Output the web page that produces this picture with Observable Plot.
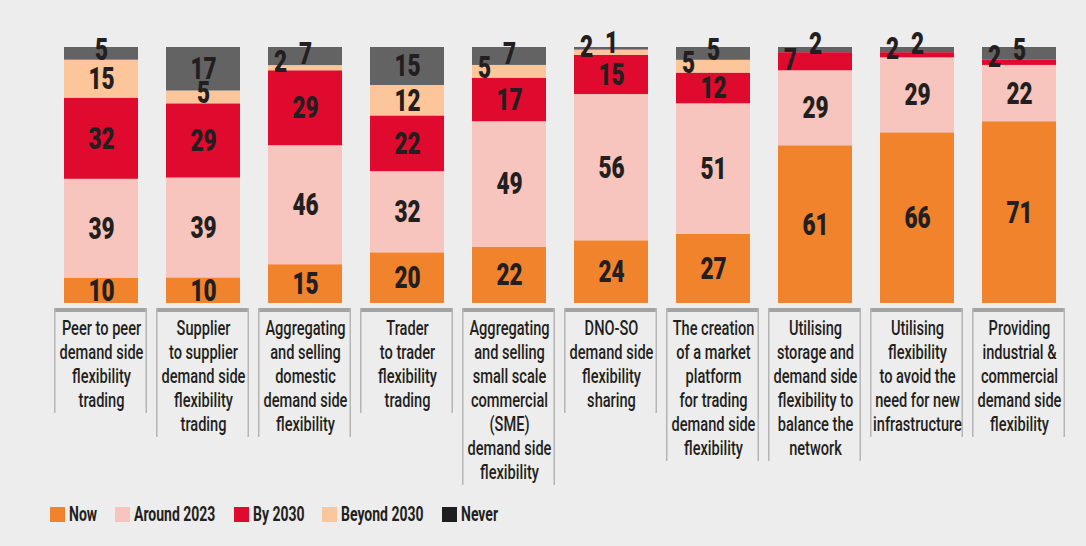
<!DOCTYPE html>
<html>
<head>
<meta charset="utf-8">
<script src="https://cdn.jsdelivr.net/npm/d3@7"></script>
<script src="https://cdn.jsdelivr.net/npm/@observablehq/plot@0.6"></script>
<style>
  html, body { margin: 0; padding: 0; background: #ededed; }
  body { width: 1086px; height: 546px; overflow: hidden; font-family: Roboto, sans-serif; color: #231f20; }
  #legend { display: flex; align-items: center; margin-left: 50px; padding-top: 6px; font-weight: bold; font-size: 20px; line-height: 20px; }
  .item { display: flex; align-items: center; margin-right: 18px; }
  .sw { width: 15px; height: 15px; margin-right: 4px; display: inline-block; flex: none; }
  .lt { display: inline-block; transform: scaleX(0.7); transform-origin: left center; white-space: nowrap; }
</style>
</head>
<body>
<div id="chart"></div>
<div id="legend"></div>
<script>
const categories = [
  "Peer to peer\ndemand side\nflexibility\ntrading",
  "Supplier\nto supplier\ndemand side\nflexibility\ntrading",
  "Aggregating\nand selling\ndomestic\ndemand side\nflexibility",
  "Trader\nto trader\nflexibility\ntrading",
  "Aggregating\nand selling\nsmall scale\ncommercial\n(SME)\ndemand side\nflexibility",
  "DNO-SO\ndemand side\nflexibility\nsharing",
  "The creation\nof a market\nplatform\nfor trading\ndemand side\nflexibility",
  "Utilising\nstorage and\ndemand side\nflexibility to\nbalance the\nnetwork",
  "Utilising\nflexibility\nto avoid the\nneed for new\ninfrastructure",
  "Providing\nindustrial &\ncommercial\ndemand side\nflexibility"
];
const seriesNames = ["Now", "Around 2023", "By 2030", "Beyond 2030", "Never"];
const now        = [10, 10, 15, 20, 22, 24, 27, 61, 66, 71];
const around2023 = [39, 39, 46, 32, 49, 56, 51, 29, 29, 22];
const by2030     = [32, 29, 29, 22, 17, 15, 12, 7, 2, 2];
const beyond2030 = [15, 5, 2, 12, 5, 2, 5, 0, 0, 0];
const never      = [5, 17, 7, 15, 7, 1, 5, 2, 2, 5];
const barColors    = ["#f0832c", "#f7c5bd", "#df0a2d", "#fdc69a", "#636363"];
const legendColors = ["#f0832c", "#f7c5bd", "#df0a2d", "#fdc69a", "#1e1e1e"];

const seriesValues = [now, around2023, by2030, beyond2030, never];
const data = [];
categories.forEach((cat, i) => {
  seriesValues.forEach((vals, s) => {
    data.push({cat, series: seriesNames[s], si: s, ci: i, value: vals[i]});
  });
});
// a small label is shifted left when the next non-empty segment above it is also small
function shifted(d) {
  if (d.value === 0 || d.value > 7) return false;
  for (let s = d.si + 1; s < seriesValues.length; s++) {
    const v = seriesValues[s][d.ci];
    if (v > 0) return v <= 7;
  }
  return false;
}
// labels of thin segments sit a little higher than the segment's middle
function raise(d) {
  if (d.value > 7) return 0;
  if (d.value <= 2) return 6;
  if (d.value <= 5) return 4;
  return 2;
}

const font = 'Roboto, sans-serif';
const ink = "#231f20";
const squeeze = 0.73;

function boxes(index, scales, values, dimensions) {
  const ns = "http://www.w3.org/2000/svg";
  const g = document.createElementNS(ns, "g");
  const x = scales.x;
  const bw = x.bandwidth ? x.bandwidth() : scales.scales.x.bandwidth;
  const top = dimensions.height - dimensions.marginBottom + 5;
  categories.forEach(c => {
    const lines = c.split("\n").length;
    const x0 = x(c) - 10, x1 = x(c) + bw + 9;
    const bottom = top + 9 + lines * 24;
    const r = document.createElementNS(ns, "rect");
    r.setAttribute("x", x0); r.setAttribute("y", top);
    r.setAttribute("width", x1 - x0); r.setAttribute("height", 4);
    r.setAttribute("fill", "#a3a3a3");
    g.appendChild(r);
    [x0 + 0.75, x1 - 0.75].forEach(xx => {
      const l = document.createElementNS(ns, "line");
      l.setAttribute("x1", xx); l.setAttribute("x2", xx);
      l.setAttribute("y1", top); l.setAttribute("y2", bottom);
      l.setAttribute("stroke", "#b5b5b5"); l.setAttribute("stroke-width", 1.5);
      g.appendChild(l);
    });
  });
  return g;
}

const stackOpts = {offset: "normalize", order: seriesNames};

function valueLabels(isShifted, r) {
  return Plot.text(data, Plot.stackY({...stackOpts, x: "cat", y: "value", z: "series",
    text: d => (d.value > 0 && shifted(d) === isShifted && raise(d) === r) ? String(d.value) : "",
    dx: isShifted ? -25 : 0, dy: -r, fontSize: 31, fontWeight: 900, fill: ink}));
}

const labelMarks = [];
[false, true].forEach(s => [0, 2, 4, 6].forEach(r => labelMarks.push(valueLabels(s, r))));

const chart = Plot.plot({
  width: 1086,
  height: 498,
  marginTop: 47,
  marginBottom: 195,
  marginLeft: 50,
  marginRight: 16,
  style: {background: "#ededed", fontFamily: font, color: ink, overflow: "visible"},
  x: {domain: categories, paddingInner: 0.2745, paddingOuter: 0.137, axis: null},
  y: {axis: null},
  color: {domain: seriesNames, range: barColors},
  marks: [
    Plot.barY(data, Plot.stackY({...stackOpts, x: "cat", y: "value", fill: "series"})),
    ...labelMarks,
    boxes,
    Plot.text(categories, {x: d => d, text: d => d, frameAnchor: "bottom", lineAnchor: "top",
      dy: 14, lineHeight: 24 / 20, fontSize: 20, fontWeight: 500, fill: ink})
  ]
});
// condense all text horizontally (the original uses a condensed typeface)
chart.querySelectorAll("text").forEach(t => {
  const tr = t.getAttribute("transform") || "";
  t.setAttribute("transform", (tr + ` scale(${squeeze},1)`).trim());
});
document.getElementById("chart").appendChild(chart);

const legend = document.getElementById("legend");
seriesNames.forEach((name, i) => {
  const item = document.createElement("div");
  item.className = "item";
  const sw = document.createElement("span");
  sw.className = "sw";
  sw.style.background = legendColors[i];
  const t = document.createElement("span");
  t.className = "lt";
  t.textContent = name;
  item.appendChild(sw); item.appendChild(t);
  legend.appendChild(item);
  t.style.marginRight = (-t.offsetWidth * (1 - 0.7)) + "px";
});
</script>
</body>
</html>
